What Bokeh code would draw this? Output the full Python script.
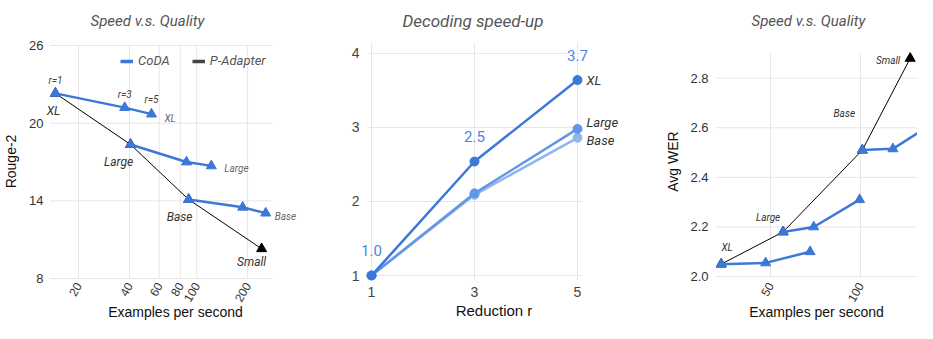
import math
from bokeh.plotting import figure
from bokeh.layouts import row
from bokeh.models import FixedTicker, Label, Legend, LegendItem, PrintfTickFormatter, Range1d
from bokeh.embed import file_html
from bokeh.resources import INLINE

# ---------------- data ----------------
# Panel 1: Speed v.s. Quality (Rouge-2)
coda_xl_speed = [14.6, 37.5, 54.0]
coda_xl_rouge = [22.3, 21.2, 20.7]
coda_large_speed = [40.6, 87.0, 122.0]
coda_large_rouge = [18.35, 17.0, 16.7]
coda_base_speed = [89.6, 187.0, 256.0]
coda_base_rouge = [14.1, 13.5, 13.05]
pad_speed = [14.6, 40.6, 89.6, 242.0]
pad_rouge = [22.3, 18.35, 14.1, 10.3]
rouge_ticks = [8, 14, 20, 26]
speed_ticks = [20, 40, 60, 80, 100, 200]
speed_extent = [13.5, 281.0]

# Panel 2: Decoding speed-up
reduction = [1, 3, 5]
speedup_xl = [1.0, 2.54, 3.64]
speedup_large = [1.0, 2.11, 2.98]
speedup_base = [1.0, 2.09, 2.86]
reduction_ticks = [1, 3, 5]
speedup_ticks = [1, 2, 3, 4]
speedup_labels = ["1.0", "2.5", "3.7"]
reduction_extent = [0.94, 5.09]
speedup_extent = [0.94, 4.147]

# Panel 3: Speed v.s. Quality (Avg WER)
wer_xl_speed = [22.6, 47.3, 72.0]
wer_xl = [2.05, 2.055, 2.10]
wer_large_speed = [57.0, 74.0, 99.5]
wer_large = [2.18, 2.20, 2.31]
wer_base_speed = [101.0, 118.0, 136.5]
wer_base = [2.51, 2.515, 2.60]
wer_pad_speed = [22.6, 57.0, 101.0, 127.6]
wer_pad = [2.05, 2.18, 2.51, 2.88]
wer_ticks = [2.0, 2.2, 2.4, 2.6, 2.8]
wer_speed_ticks = [50, 100]
wer_extent = [2.0, 2.9]
wer_speed_extent = [19.44, 131.67]

BLUE = "#3c78d8"
LARGE_BLUE = "#6196e6"
BASE_BLUE = "#92b5ee"
GRID = "#e6e6e6"
TICK_FONT = "Liberation Sans"
NOTE_FONT = "Roboto"
H = 323


def make_fig(width, x_range, y_range, x_type, left, right, title, tsize, tstand, toff):
    p = figure(width=width, height=H, x_range=x_range, y_range=y_range,
               x_axis_type=x_type, output_backend="svg", toolbar_location=None,
               min_border_left=left, min_border_right=right,
               min_border_top=42, min_border_bottom=41)
    p.outline_line_color = None
    p.grid.visible = False
    p.title.text = title
    p.title.align = "left"
    p.title.vertical_align = "top"
    p.title.offset = toff
    p.title.standoff = tstand
    p.title.text_font = NOTE_FONT
    p.title.text_font_style = "italic"
    p.title.text_font_size = tsize
    p.title.text_color = "#555555"
    for ax in p.axis:
        ax.axis_line_color = None
        ax.major_tick_line_color = None
        ax.minor_tick_line_color = None
        ax.major_tick_out = 0
        ax.major_tick_in = 0
        ax.minor_tick_out = 0
        ax.minor_tick_in = 0
        ax.major_label_text_font = TICK_FONT
        ax.major_label_text_font_size = "13px"
        ax.major_label_text_color = "#333333"
        ax.axis_label_text_font = TICK_FONT
        ax.axis_label_text_font_size = "14px"
        ax.axis_label_text_font_style = "normal"
        ax.axis_label_text_color = "#111111"
    return p


def grid(p, xticks, yticks, xext, yext):
    p.segment(x0=xticks, x1=xticks, y0=[yext[0]] * len(xticks), y1=[yext[1]] * len(xticks),
              line_color=GRID, line_width=1)
    p.segment(x0=[xext[0]] * len(yticks), x1=[xext[1]] * len(yticks), y0=yticks, y1=yticks,
              line_color=GRID, line_width=1)


def note(p, x, y, text, dx, dy, size, color, align="center", style="italic", font=NOTE_FONT):
    p.add_layout(Label(x=x, y=y, text=text, x_offset=dx, y_offset=dy,
                       text_align=align, text_baseline="middle",
                       text_font_size=size, text_color=color,
                       text_font_style=style, text_font=font))


# ---------------- Panel 1 ----------------
p1 = make_fig(310, Range1d(12.75, 440), Range1d(7.847, 26.23), "log", 45, 5,
              "Speed v.s. Quality", "15px", 22, 45)
p1.xaxis.ticker = FixedTicker(ticks=speed_ticks, minor_ticks=[])
p1.xaxis.major_label_overrides = {t: str(t) for t in speed_ticks}
p1.xaxis.major_label_orientation = math.pi / 3
p1.xaxis.major_label_text_font_size = "12px"
p1.xaxis.bounds = (13.5, 228)
p1.xaxis.major_label_standoff = 3
p1.xaxis.axis_label_standoff = -4
p1.yaxis.ticker = FixedTicker(ticks=rouge_ticks, minor_ticks=[])
p1.yaxis.bounds = (7.3, 26)
p1.yaxis.major_label_standoff = 2
p1.yaxis.axis_label_standoff = 7
p1.xaxis.axis_label = "Examples per second"
p1.yaxis.axis_label = "Rouge-2"
grid(p1, speed_ticks, rouge_ticks, speed_extent, [rouge_ticks[0], rouge_ticks[-1]])

p1.line(pad_speed, pad_rouge, line_color="#000000", line_width=1)
p1.scatter(pad_speed, pad_rouge, marker="triangle", size=10, color="#000000")
for xs, ys in [(coda_xl_speed, coda_xl_rouge), (coda_large_speed, coda_large_rouge),
               (coda_base_speed, coda_base_rouge)]:
    p1.line(xs, ys, line_color=BLUE, line_width=2.5)
    p1.scatter(xs, ys, marker="triangle", size=10, color=BLUE)

leg_coda = p1.line(coda_xl_speed[:1], coda_xl_rouge[:1], line_color=BLUE, line_width=3.5)
leg_pad = p1.line(pad_speed[:1], pad_rouge[:1], line_color="#444444", line_width=3.5)
legend = Legend(items=[LegendItem(label="CoDA", renderers=[leg_coda]),
                       LegendItem(label="P-Adapter", renderers=[leg_pad])],
                location=(71, 208), orientation="horizontal",
                background_fill_alpha=0, border_line_alpha=0,
                label_text_font=NOTE_FONT, label_text_font_style="italic",
                label_text_font_size="13px", label_text_color="#555555",
                glyph_width=13, glyph_height=10, label_standoff=5,
                spacing=22, padding=4, margin=0)
p1.add_layout(legend)

note(p1, coda_xl_speed[0], coda_xl_rouge[0], "r=1", 0, 13, "10px", "#444444")
note(p1, coda_xl_speed[1], coda_xl_rouge[1], "r=3", 0, 13, "10px", "#444444")
note(p1, coda_xl_speed[2], coda_xl_rouge[2], "r=5", 0, 15, "10px", "#444444")
note(p1, coda_xl_speed[0], coda_xl_rouge[0], "XL", -2, -18, "12px", "#333333")
note(p1, coda_xl_speed[2], coda_xl_rouge[2], "XL", 13, -4, "10px", "#666666", align="left")
note(p1, coda_large_speed[0], coda_large_rouge[0], "Large", -12, -17, "12px", "#333333")
note(p1, coda_large_speed[2], coda_large_rouge[2], "Large", 13, -3, "10px", "#666666", align="left")
note(p1, coda_base_speed[0], coda_base_rouge[0], "Base", -9, -17, "12px", "#333333")
note(p1, coda_base_speed[2], coda_base_rouge[2], "Base", 9, -3, "10px", "#666666", align="left")
note(p1, pad_speed[3], pad_rouge[3], "Small", -10, -13, "12px", "#333333")

# ---------------- Panel 2 ----------------
p2 = make_fig(320, Range1d(0.825, 5.932), Range1d(0.933, 4.147), "linear", 52, 5,
              "Decoding speed-up", "17px", 19, 40)
p2.xaxis.ticker = FixedTicker(ticks=reduction_ticks, minor_ticks=[])
p2.yaxis.ticker = FixedTicker(ticks=speedup_ticks, minor_ticks=[])
p2.xaxis.bounds = (0.85, 5.2)
p2.xaxis.axis_label = "Reduction r"
p2.xaxis.major_label_standoff = 6
p2.xaxis.axis_label_standoff = 2
p2.yaxis.major_label_standoff = 3
for ax in p2.axis:
    ax.major_label_text_font_size = "14px"
    ax.major_label_text_color = "#444444"
p2.xaxis.axis_label_text_font_size = "15px"
grid(p2, reduction_ticks, speedup_ticks, reduction_extent, speedup_extent)

for ys, c in [(speedup_base, BASE_BLUE), (speedup_large, LARGE_BLUE), (speedup_xl, BLUE)]:
    p2.line(reduction, ys, line_color=c, line_width=2.5)
    p2.scatter(reduction, ys, marker="circle", size=9, color=c)

for i in range(3):
    note(p2, reduction[i], speedup_xl[i], speedup_labels[i], 0, 25, "15px", "#4a86e8", style="normal")
note(p2, reduction[2], speedup_xl[2], "XL", 9, 0, "13px", "#333333", align="left")
note(p2, reduction[2], speedup_large[2], "Large", 9, 6, "13px", "#333333", align="left")
note(p2, reduction[2], speedup_base[2], "Base", 9, -3, "13px", "#333333", align="left")

# ---------------- Panel 3 ----------------
p3 = make_fig(287, Range1d(19.44, 131.67), Range1d(1.984, 2.944), "linear", 85, 0,
              "Speed v.s. Quality", "15px", 22, 36)
p3.xaxis.ticker = FixedTicker(ticks=wer_speed_ticks, minor_ticks=[])
p3.xaxis.major_label_orientation = math.pi / 3
p3.xaxis.major_label_text_font_size = "12px"
p3.xaxis.bounds = (19.44, 127.2)
p3.xaxis.major_label_standoff = 3
p3.xaxis.axis_label_standoff = -4
p3.yaxis.ticker = FixedTicker(ticks=wer_ticks, minor_ticks=[])
p3.yaxis.formatter = PrintfTickFormatter(format="%.1f")
p3.yaxis.bounds = (1.95, 2.9)
p3.yaxis.major_label_standoff = 7
p3.yaxis.axis_label_standoff = 6
p3.xaxis.axis_label = "Examples per second"
p3.yaxis.axis_label = "Avg WER"
grid(p3, wer_speed_ticks, wer_ticks, wer_speed_extent, wer_extent)

p3.line(wer_pad_speed, wer_pad, line_color="#000000", line_width=1)
p3.scatter(wer_pad_speed, wer_pad, marker="triangle", size=10, color="#000000")
for xs, ys in [(wer_xl_speed, wer_xl), (wer_large_speed, wer_large), (wer_base_speed, wer_base)]:
    p3.line(xs, ys, line_color=BLUE, line_width=2.5)
    p3.scatter(xs, ys, marker="triangle", size=10, color=BLUE)

note(p3, wer_pad_speed[0], wer_pad[0], "XL", 6, 17, "10px", "#333333")
note(p3, wer_pad_speed[1], wer_pad[1], "Large", -15, 14, "10px", "#333333")
note(p3, wer_pad_speed[2], wer_pad[2], "Base", -18, 37, "10px", "#333333")
note(p3, wer_pad_speed[3], wer_pad[3], "Small", -10, -2, "10px", "#333333", align="right")

layout = row(p1, p2, p3)
open("out.html", "w").write(file_html(layout, INLINE))
